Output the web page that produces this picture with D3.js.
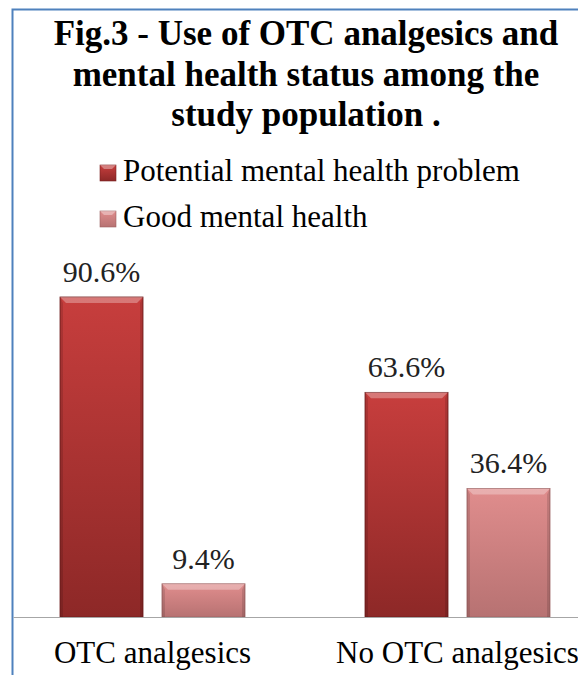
<!DOCTYPE html>
<html>
<head>
<meta charset="utf-8">
<script src="https://cdn.jsdelivr.net/npm/d3@7"></script>
<style>
  body { margin: 0; background: #fff; }
  svg { display: block; }
  text { font-family: "Liberation Serif", "Times New Roman", serif; fill: #000; }
</style>
</head>
<body>
<svg id="chart" width="578" height="675"></svg>
<script>
// data
var categories = ["OTC analgesics", "No OTC analgesics"];
var seriesNames = ["Potential mental health problem", "Good mental health"];
var potential = [90.6, 63.6];
var good = [9.4, 36.4];
var titleLines = ["Fig.3 - Use of OTC analgesics and", "mental health status among the", "study population ."];

var svg = d3.select("#chart");
var baseY = 617;
var bevel = 6;

var rows = categories.map(function (c, i) {
    return { cat: c, values: [potential[i], good[i]] };
});

// gradients for the two series
var defs = svg.append("defs");
var grads = [
    { id: "g0", top: "#c73e3d", bottom: "#8d2827" },
    { id: "g1", top: "#e08d8d", bottom: "#b77272" }
];
grads.forEach(function (g) {
    var lg = defs.append("linearGradient").attr("id", g.id)
        .attr("x1", 0).attr("y1", 0).attr("x2", 0).attr("y2", 1);
    lg.append("stop").attr("offset", "0%").attr("stop-color", g.top);
    lg.append("stop").attr("offset", "100%").attr("stop-color", g.bottom);
});

// frame
svg.append("path")
    .attr("d", "M12.5,700 L12.5,9.5 L600,9.5")
    .attr("fill", "none")
    .attr("stroke", "#4f81bd")
    .attr("stroke-width", 2);

// title
svg.append("g").selectAll("text")
    .data(titleLines)
    .enter().append("text")
    .attr("x", 306)
    .attr("y", (d, i) => 45 + i * 40.5)
    .attr("text-anchor", "middle")
    .style("font-size", "35px")
    .style("font-weight", "bold")
    .text(d => d);

// legend
var legend = svg.append("g").selectAll("g")
    .data(seriesNames)
    .enter().append("g")
    .attr("transform", (d, i) => "translate(100," + (181 + i * 46) + ")");
legend.append("rect")
    .attr("x", 0).attr("y", -16)
    .attr("width", 16).attr("height", 16)
    .attr("fill", (d, i) => "url(#g" + i + ")")
    .attr("stroke", (d, i) => i == 0 ? "#7a2020" : "#9a6060")
    .attr("stroke-width", 0.6);
legend.append("path")
    .attr("d", "M0,-16 L16,-16 L12,-12 L4,-12 Z")
    .attr("fill", "#fff").attr("opacity", 0.35);
legend.append("text")
    .attr("x", 23).attr("y", 0)
    .style("font-size", "31px")
    .text(d => d);

// scales
var x0 = d3.scaleBand()
    .domain(categories)
    .range([0, 610])
    .padding(0);

var x1 = d3.scaleBand()
    .domain(seriesNames)
    .range([0, 185])
    .paddingInner(0.186);

var y = d3.scaleLinear()
    .domain([0, 100])
    .range([baseY, baseY - 353.2]);

var groups = svg.append("g").selectAll("g")
    .data(rows)
    .enter().append("g")
    .attr("transform", d => "translate(" + (x0(d.cat) + (x0.bandwidth() - 185) / 2) + ",0)");

var bars = groups.selectAll("g")
    .data(d => d.values.map((v, i) => ({ key: seriesNames[i], idx: i, value: v })))
    .enter().append("g");

bars.append("rect")
    .attr("x", d => x1(d.key))
    .attr("y", d => y(d.value))
    .attr("width", x1.bandwidth())
    .attr("height", d => baseY - y(d.value))
    .attr("fill", d => "url(#g" + d.idx + ")")
    .attr("stroke", d => d.idx == 0 ? "#6e1c1c" : "#9b6262")
    .attr("stroke-width", 0.8);

// bevel: light top, darker sides
bars.append("path")
    .attr("d", function (d) {
        var bx = x1(d.key), by = y(d.value), w = x1.bandwidth();
        return "M" + bx + "," + by + " L" + (bx + w) + "," + by +
            " L" + (bx + w - bevel) + "," + (by + bevel) + " L" + (bx + bevel) + "," + (by + bevel) + " Z";
    })
    .attr("fill", "#fff").attr("opacity", 0.3);
bars.append("path")
    .attr("d", function (d) {
        var bx = x1(d.key), by = y(d.value), w = x1.bandwidth();
        return "M" + bx + "," + by + " L" + (bx + 3) + "," + (by + bevel) + " L" + (bx + 3) + "," + baseY + " L" + bx + "," + baseY + " Z" +
            " M" + (bx + w) + "," + by + " L" + (bx + w - 3) + "," + (by + bevel) + " L" + (bx + w - 3) + "," + baseY + " L" + (bx + w) + "," + baseY + " Z";
    })
    .attr("fill", "#000").attr("opacity", 0.12);

// value labels
bars.append("text")
    .attr("x", d => x1(d.key) + x1.bandwidth() / 2)
    .attr("y", d => y(d.value) - 15)
    .attr("text-anchor", "middle")
    .style("font-size", "30px")
    .style("fill", "#222")
    .text(d => d.value.toFixed(1) + "%");

// axis
var xAxis = svg.append("g")
    .attr("transform", "translate(0," + baseY + ")")
    .call(d3.axisBottom(x0).tickSize(0).tickPadding(0));
xAxis.select(".domain")
    .attr("d", "M13.5,0.5 L600,0.5")
    .attr("stroke", "#a6a6a6")
    .attr("stroke-width", 1.2);
xAxis.selectAll(".tick text")
    .attr("y", 46)
    .attr("dy", 0)
    .style("font-size", "31px")
    .style("font-family", "'Liberation Serif', 'Times New Roman', serif")
    .style("fill", "#000");
</script>
</body>
</html>
